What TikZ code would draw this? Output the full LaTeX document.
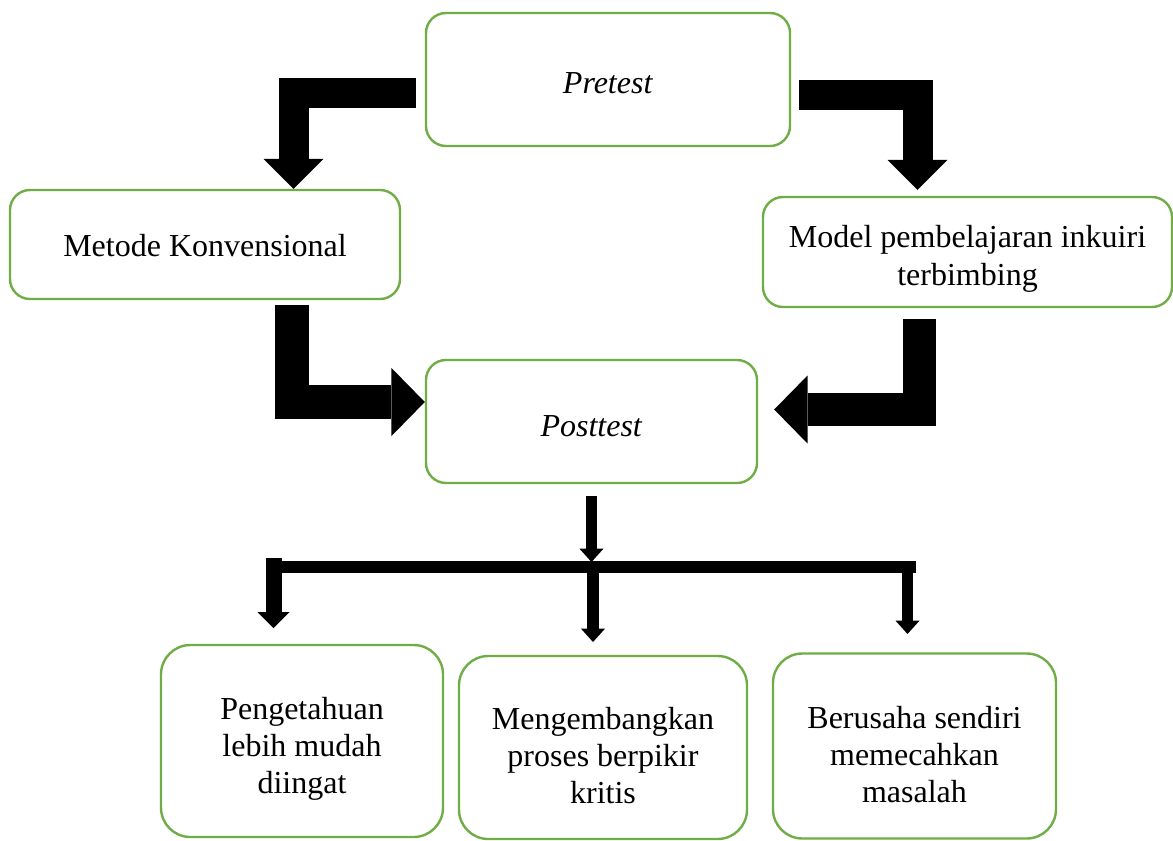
\documentclass[tikz,border=0pt]{standalone}
\usepackage{fontspec}
\setmainfont{Liberation Serif}
\usetikzlibrary{arrows.meta}
\definecolor{boxgreen}{RGB}{112,173,71}
\newcommand{\topgap}[1]{\rule{0pt}{#1}}
\tikzset{
  box/.style={draw=boxgreen, line width=1.8pt, rounded corners=15pt, align=center, inner sep=2pt,
    font=\fontsize{24}{28}\selectfont},
  bigbox/.style={box, rounded corners=22pt},
  bigarrow/.style={line width=22.5pt, -{Triangle[width=45pt,length=22.5pt,line width=0pt]}},
  elbowarrow/.style={line width=25pt, -{Triangle[width=51pt,length=25pt,line width=0pt]}},
  smallarrow/.style={line width=8.5pt, -{Triangle[width=18pt,length=10pt,line width=0pt]}},
}
\begin{document}
\begin{tikzpicture}[x=0.75pt,y=0.75pt,yscale=-1,xscale=1]
\useasboundingbox (0,0) rectangle (1173,840);

%Rounded Rect [id:pre] 
\node[box, minimum width=273pt, minimum height=99.75pt] (pre) at (608,79.5) {\topgap{20.5pt}\textit{Pretest}};
%Rounded Rect [id:kon] 
\node[box, minimum width=292.5pt, minimum height=81.75pt] (kon) at (205,244.5) {\topgap{17.5pt}Metode Konvensional};
%Rounded Rect [id:inq] 
\node[box, minimum width=306.75pt, minimum height=82.5pt] (inq) at (967.5,252) {\topgap{27pt}Model pembelajaran inkuiri\\terbimbing};
%Rounded Rect [id:post] 
\node[box, minimum width=248.25pt, minimum height=92.25pt] (post) at (591.5,421.5) {\topgap{22.5pt}\textit{Posttest}};
%Rounded Rect [id:k1] 
\node[bigbox, minimum width=211.5pt, minimum height=144pt] (k1) at (302,741) {\topgap{28.5pt}Pengetahuan\\lebih mudah\\diingat};
%Rounded Rect [id:k2] 
\node[bigbox, minimum width=216pt, minimum height=137.25pt] (k2) at (603,747.5) {\topgap{28.5pt}Mengembangkan\\proses berpikir\\kritis};
%Rounded Rect [id:k3] 
\node[bigbox, minimum width=212.25pt, minimum height=138.75pt] (k3) at (914.5,746) {\topgap{29.5pt}Berusaha sendiri\\memecahkan\\masalah};

%Bend Arrows
\coordinate (a1) at (416,93);
\coordinate (b1) at (293.5,93);
\draw[bigarrow] (a1) -- (b1) -- (b1 |- kon.north);
\coordinate (a2) at (799,95);
\coordinate (b2) at (917.5,95);
\draw[bigarrow, shorten >=4.5pt] (a2) -- (b2) -- (b2 |- inq.north);
\coordinate (a3) at (292,305);
\coordinate (b3) at (292,402);
\draw[elbowarrow] (a3) -- (b3) -- (b3 -| post.west);
\coordinate (a4) at (919.5,319);
\coordinate (b4) at (919.5,409.5);
\draw[elbowarrow, shorten >=12pt] (a4) -- (b4) -- (b4 -| post.east);

%Straight Lines [id:bar] 
\coordinate (barL) at (266,567);
\coordinate (barR) at (916,567);
\draw[line width=9pt] (barL) -- (barR);
\draw[smallarrow, shorten >=3.75pt] ([yshift=9pt]post.south) -- (post.south |- barL);

%Down Arrows
\coordinate (jL) at (273.5,558);
\coordinate (eL) at (273.5,628);
\coordinate (jM) at (593,571);
\coordinate (eM) at (593,642);
\coordinate (jR) at (907.5,571);
\coordinate (eR) at (907.5,634);
\draw[line width=12pt, -{Triangle[width=24pt,length=12pt,line width=0pt]}] (jL) -- (eL);
\draw[smallarrow] (jM) -- (eM);
\draw[smallarrow] (jR) -- (eR);

\end{tikzpicture}
\end{document}
